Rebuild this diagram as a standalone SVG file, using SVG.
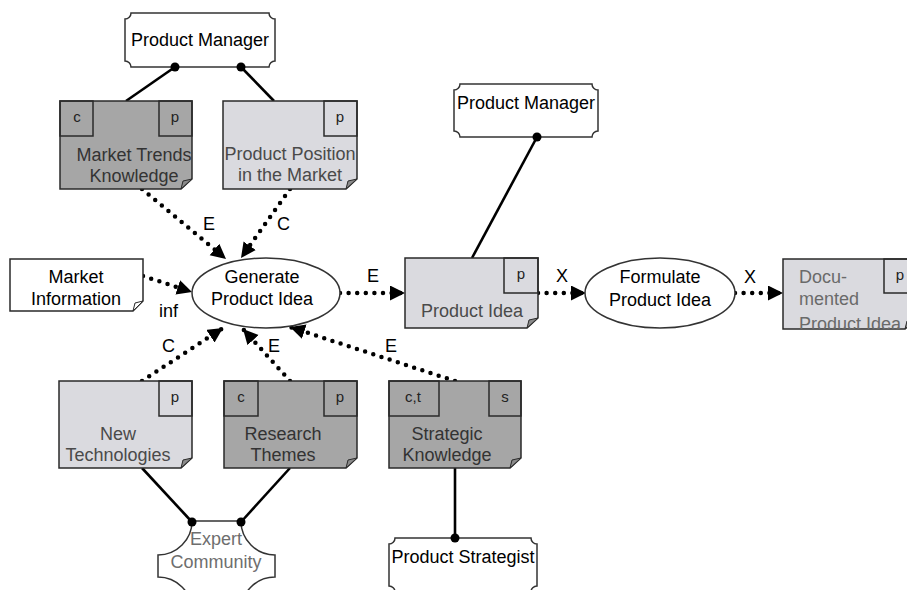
<svg xmlns="http://www.w3.org/2000/svg" width="907" height="590" viewBox="0 0 907 590">
  <style>
    text { font-family: "Liberation Sans", Arial, sans-serif; }
    .lbl { font-size: 18px; fill: #000; }
    .role { fill: #fff; stroke: #333; stroke-width: 1.5; }
    .roleTxt { font-size: 18px; fill: #000; text-anchor: middle; }
    .docDark { fill: #a6a6a6; stroke: #2a2a2a; stroke-width: 1.5; }
    .docLight { fill: #dadadf; stroke: #2a2a2a; stroke-width: 1.5; }
    .docWhite { fill: #fff; stroke: #2a2a2a; stroke-width: 1.5; }
    .tag { fill: none; stroke: #2a2a2a; stroke-width: 1.5; }
    .tagTxt { font-size: 15px; fill: #222; text-anchor: middle; }
    .fold { fill: #8a8a8a; stroke: #2a2a2a; stroke-width: 1; }
    .docTxtD { font-size: 18px; fill: #333; text-anchor: middle; }
    .docTxtL { font-size: 18px; fill: #4a4a4a; text-anchor: middle; }
    .proc { fill: #fff; stroke: #333; stroke-width: 1.5; }
    .procTxt { font-size: 18px; fill: #000; text-anchor: middle; }
    .flow { fill: none; stroke: #000; stroke-width: 4.5; stroke-linecap: round; stroke-dasharray: 0 8.6; marker-end: url(#tri); }
    .link { fill: none; stroke: #000; stroke-width: 2.6; }
    .dot { fill: #000; }
  </style>
  <defs>
    <marker id="tri" markerUnits="userSpaceOnUse" markerWidth="18" markerHeight="18" refX="15" refY="7.5" orient="auto">
      <path d="M0,0 L15,7.5 L0,15 Z" fill="#000"/>
    </marker>
    <clipPath id="docClip">
      <rect x="783" y="259" width="133" height="70"/>
    </clipPath>
  </defs>

  <!-- solid assignment links and dotted information flows -->
  <g id="connectors">
    <line class="link" x1="175" y1="67" x2="126" y2="101"/>
    <line class="link" x1="241" y1="67" x2="274" y2="101"/>
    <line class="link" x1="537" y1="137" x2="472" y2="258"/>
    <line class="link" x1="142" y1="468" x2="192" y2="522"/>
    <line class="link" x1="290" y1="468" x2="241" y2="522"/>
    <line class="link" x1="455" y1="468" x2="455" y2="538"/>

    <path class="flow" d="M142,189 L226,259"/>
    <path class="flow" d="M290,189 L241,258"/>
    <path class="flow" d="M143,276 L192,292"/>
    <path class="flow" d="M142,381 L223,328"/>
    <path class="flow" d="M290,381 L243,329"/>
    <path class="flow" d="M455,381 L290,327"/>
    <path class="flow" d="M340,293 L405,293"/>
    <path class="flow" d="M538,293 L586,293"/>
    <path class="flow" d="M735,293 L783,293"/>

    <text class="lbl" x="203" y="230">E</text>
    <text class="lbl" x="277" y="230">C</text>
    <text class="lbl" x="159" y="317">inf</text>
    <text class="lbl" x="162" y="352">C</text>
    <text class="lbl" x="268" y="352">E</text>
    <text class="lbl" x="385" y="352">E</text>
    <text class="lbl" x="367" y="282">E</text>
    <text class="lbl" x="556" y="282">X</text>
    <text class="lbl" x="744" y="283">X</text>
  </g>

  <!-- roles -->
  <g id="pm-top">
    <path class="role" d="M131,13 H269 A6,6 0 0 0 275,19 V61 A6,6 0 0 0 269,67 H131 A6,6 0 0 0 125,61 V19 A6,6 0 0 0 131,13 Z"/>
    <text class="roleTxt" x="200" y="46">Product Manager</text>
    <circle class="dot" cx="175" cy="67" r="4.5"/>
    <circle class="dot" cx="241" cy="67" r="4.5"/>
  </g>

  <g id="pm-right">
    <path class="role" d="M460,84 H592 A6,6 0 0 0 598,90 V131 A6,6 0 0 0 592,137 H460 A6,6 0 0 0 454,131 V90 A6,6 0 0 0 460,84 Z"/>
    <text class="roleTxt" x="526" y="109">Product Manager</text>
    <circle class="dot" cx="537" cy="137" r="4.5"/>
  </g>

  <g id="product-strategist">
    <path class="role" d="M395,538 H531 A6,6 0 0 0 537,544 V586 A6,6 0 0 0 531,592 H395 A6,6 0 0 0 389,586 V544 A6,6 0 0 0 395,538 Z"/>
    <text class="roleTxt" x="463" y="563">Product Strategist</text>
    <circle class="dot" cx="455" cy="538" r="4.5"/>
  </g>

  <g id="expert-community">
    <path class="role" d="M192,521 H241 A34,34 0 0 0 275,555 V577 A34,34 0 0 0 241,611 H192 A34,34 0 0 0 158,577 V555 A34,34 0 0 0 192,521 Z"/>
    <text class="roleTxt" x="216" y="545" style="fill:#6e6e6e">Expert</text>
    <text class="roleTxt" x="216" y="568" style="fill:#6e6e6e">Community</text>
    <circle class="dot" cx="192" cy="522" r="4.5"/>
    <circle class="dot" cx="241" cy="522" r="4.5"/>
  </g>

  <!-- documents -->
  <g id="market-trends">
    <path class="docDark" d="M60,101 H192 V179 L181,189 H60 Z"/>
    <path class="fold" d="M181,189 L192,179 L183,181 Z"/>
    <rect class="tag" x="60" y="101" width="33" height="35"/>
    <rect class="tag" x="159" y="101" width="33" height="35"/>
    <text class="tagTxt" x="77" y="122">c</text>
    <text class="tagTxt" x="175" y="122">p</text>
    <text class="docTxtD" x="134" y="161">Market Trends</text>
    <text class="docTxtD" x="134" y="182">Knowledge</text>
  </g>

  <g id="product-position">
    <path class="docLight" d="M223,101 H357 V179 L346,189 H223 Z"/>
    <path class="fold" d="M346,189 L357,179 L348,181 Z"/>
    <rect class="tag" x="324" y="101" width="33" height="35"/>
    <text class="tagTxt" x="340" y="122">p</text>
    <text class="docTxtL" x="290" y="160">Product Position</text>
    <text class="docTxtL" x="290" y="181">in the Market</text>
  </g>

  <g id="market-information">
    <path class="docWhite" d="M10,259 H143 V301 L133,311 H10 Z"/>
    <path class="fold" d="M133,311 L143,301 L135,303 Z" style="fill:#fff"/>
    <text class="procTxt" x="76" y="283">Market</text>
    <text class="procTxt" x="76" y="305">Information</text>
  </g>

  <g id="new-technologies">
    <path class="docLight" d="M59,381 H192 V458 L181,468 H59 Z"/>
    <path class="fold" d="M181,468 L192,458 L183,460 Z"/>
    <rect class="tag" x="159" y="381" width="33" height="35"/>
    <text class="tagTxt" x="175" y="402">p</text>
    <text class="docTxtL" x="118" y="440">New</text>
    <text class="docTxtL" x="118" y="461">Technologies</text>
  </g>

  <g id="research-themes">
    <path class="docDark" d="M224,381 H357 V458 L346,468 H224 Z"/>
    <path class="fold" d="M346,468 L357,458 L348,460 Z"/>
    <rect class="tag" x="224" y="381" width="34" height="35"/>
    <rect class="tag" x="324" y="381" width="33" height="35"/>
    <text class="tagTxt" x="241" y="402">c</text>
    <text class="tagTxt" x="340" y="402">p</text>
    <text class="docTxtD" x="283" y="440">Research</text>
    <text class="docTxtD" x="283" y="461">Themes</text>
  </g>

  <g id="strategic-knowledge">
    <path class="docDark" d="M389,381 H521 V458 L510,468 H389 Z"/>
    <path class="fold" d="M510,468 L521,458 L512,460 Z"/>
    <rect class="tag" x="389" y="381" width="50" height="35"/>
    <rect class="tag" x="489" y="381" width="32" height="35"/>
    <text class="tagTxt" x="413" y="402">c,t</text>
    <text class="tagTxt" x="505" y="402">s</text>
    <text class="docTxtD" x="447" y="440">Strategic</text>
    <text class="docTxtD" x="447" y="461">Knowledge</text>
  </g>

  <g id="product-idea">
    <path class="docLight" d="M405,258 H538 V318 L527,328 H405 Z"/>
    <path class="fold" d="M527,328 L538,318 L529,320 Z"/>
    <rect class="tag" x="504" y="258" width="34" height="35"/>
    <text class="tagTxt" x="521" y="279">p</text>
    <text class="docTxtL" x="472" y="317">Product Idea</text>
  </g>

  <g id="documented-product-idea">
    <path class="docLight" d="M783,259 H916 V319 L905,329 H783 Z"/>
    <path class="fold" d="M905,329 L916,319 L907,321 Z"/>
    <rect class="tag" x="884" y="259" width="33" height="34"/>
    <text class="tagTxt" x="900" y="280">p</text>
    <g clip-path="url(#docClip)">
      <text x="799" y="283" style="font-size:18px;fill:#6a6a6a">Docu-</text>
      <text x="799" y="305" style="font-size:18px;fill:#6a6a6a">mented</text>
      <text x="799" y="330" style="font-size:18px;fill:#6a6a6a">Product Idea</text>
    </g>
  </g>

  <!-- processes -->
  <g id="generate-product-idea">
    <ellipse class="proc" cx="266" cy="293" rx="74" ry="35"/>
    <text class="procTxt" x="262" y="283">Generate</text>
    <text class="procTxt" x="262" y="305">Product Idea</text>
  </g>

  <g id="formulate-product-idea">
    <ellipse class="proc" cx="660" cy="293" rx="75" ry="35"/>
    <text class="procTxt" x="660" y="283">Formulate</text>
    <text class="procTxt" x="660" y="306">Product Idea</text>
  </g>
</svg>
